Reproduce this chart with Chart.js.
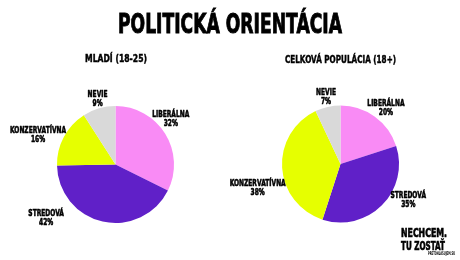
<!DOCTYPE html>
<html>
<head>
<meta charset="utf-8">
<script src="https://cdn.jsdelivr.net/npm/chart.js@4/dist/chart.umd.min.js"></script>
<style>
  html, body { margin: 0; padding: 0; background: #ffffff; }
  #wrap { position: relative; width: 460px; height: 260px; overflow: hidden; background: #fff; }
  canvas { position: absolute; top: 0; }
  .t { position: absolute; white-space: nowrap; font-family: "DejaVu Sans", sans-serif; font-weight: bold; color: #000; line-height: 1; transform-origin: 0 0; }
  #title { -webkit-text-stroke: 1px #000; }
  #sub1, #sub2 { -webkit-text-stroke: 0.5px #000; }
  #logo1, #logo2 { -webkit-text-stroke: 0.7px #000; }
</style>
</head>
<body>
<div id="wrap">
  <canvas id="c1" width="230" height="260" style="left:0"></canvas>
  <canvas id="c2" width="230" height="260" style="left:230px"></canvas>
  <div class="t" id="title" style="font-size:27px; top:10px;" data-left="118" data-w="224">POLITICKÁ ORIENTÁCIA</div>
  <div class="t" id="sub1" style="font-size:11px; top:52.7px;" data-left="85" data-w="62">MLADÍ (18-25)</div>
  <div class="t" id="sub2" style="font-size:11px; top:54px;" data-left="285" data-w="111">CELKOVÁ POPULÁCIA (18+)</div>
  <div class="t" id="logo1" style="font-size:12.5px; top:226.5px;" data-left="401" data-w="46">NECHCEM.</div>
  <div class="t" id="logo2" style="font-size:12.5px; top:239.5px;" data-left="401" data-w="44">TU ZOSTAŤ</div>
  <div class="t" id="logo3" style="font-size:5px; top:250.5px;" data-left="428" data-w="27">PRETOHLASUJEM.SK</div>
</div>
<script>
// ---- data ----
const categories = ['LIBERÁLNA', 'STREDOVÁ', 'KONZERVATÍVNA', 'NEVIE'];
const youngValues = [32, 42, 16, 9];
const totalValues = [20, 35, 38, 7];
const youngTitle = 'MLADÍ (18-25)';
const totalTitle = 'CELKOVÁ POPULÁCIA (18+)';

// ---- styles ----
const colors = ['#f98bf5', '#6020c8', '#e6ff00', '#d9d9d9'];
// label placement: angle shift from slice middle (deg) and distance as multiple of radius
const youngLabelShift = [-8, 40, -7, 1.3];
const youngLabelDist = [1.23, 1.49, 1.42, 1.18];
const totalLabelShift = [2.4, -18, -12, 0.6];
const totalLabelDist = [1.25, 1.30, 1.47, 1.19];

// fit HTML titles horizontally (condensed look)
document.querySelectorAll('.t').forEach(el => {
  const w = el.getBoundingClientRect().width;
  const target = parseFloat(el.dataset.w);
  el.style.left = el.dataset.left + 'px';
  el.style.transform = 'scaleX(' + (target / w) + ')';
});

const LABEL_SCALE = 0.66;
const labelPlugin = {
  id: 'pieLabels',
  afterDatasetsDraw(chart, args, opts) {
    const ctx = chart.ctx;
    const meta = chart.getDatasetMeta(0);
    const ds = chart.data.datasets[0];
    ctx.save();
    ctx.fillStyle = '#000';
    ctx.strokeStyle = '#000';
    ctx.lineWidth = 0.6;
    ctx.lineJoin = 'round';
    ctx.font = 'bold 9px "DejaVu Sans"';
    ctx.textAlign = 'center';
    ctx.textBaseline = 'alphabetic';
    meta.data.forEach((arc, i) => {
      const p = arc.getProps(['x', 'y', 'startAngle', 'endAngle', 'outerRadius'], true);
      const a = (p.startAngle + p.endAngle) / 2 + opts.shift[i] * Math.PI / 180;
      const d = p.outerRadius * opts.dist[i];
      const cx = p.x + Math.cos(a) * d;
      const cy = p.y + Math.sin(a) * d;
      const lines = [chart.data.labels[i], ds.data[i] + '%'];
      const base = [cy - 1, cy + 8];
      lines.forEach((txt, j) => {
        ctx.save();
        ctx.translate(cx, base[j]);
        ctx.scale(LABEL_SCALE, 1);
        ctx.fillText(txt, 0, 0);
        ctx.strokeText(txt, 0, 0);
        ctx.restore();
      });
    });
    ctx.restore();
  }
};

function makePie(id, values, padding, shift, dist) {
  return new Chart(document.getElementById(id), {
    type: 'pie',
    data: {
      labels: categories,
      datasets: [{
        data: values,
        backgroundColor: colors,
        borderWidth: 0,
        hoverOffset: 0,
        offset: 0
      }]
    },
    options: {
      responsive: false,
      devicePixelRatio: 1,
      animation: false,
      events: [],
      layout: { padding: padding },
      plugins: {
        legend: { display: false },
        tooltip: { enabled: false },
        title: { display: false },
        pieLabels: { shift: shift, dist: dist }
      }
    },
    plugins: [labelPlugin]
  });
}

makePie('c1', youngValues, { left: 57, right: 56, top: 106, bottom: 37 }, youngLabelShift, youngLabelDist);
makePie('c2', totalValues, { left: 52, right: 61, top: 105.5, bottom: 37.5 }, totalLabelShift, totalLabelDist);
</script>
</body>
</html>
